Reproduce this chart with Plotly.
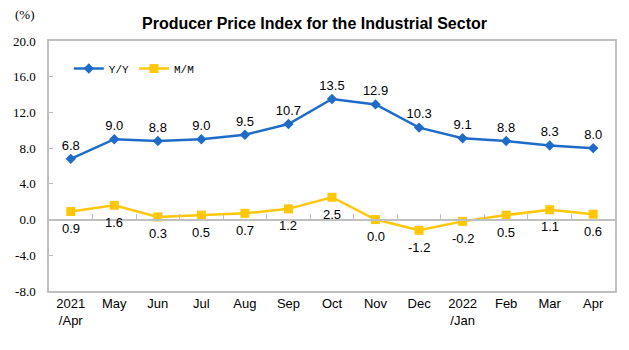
import plotly.graph_objects as go

categories = ["2021<br>/Apr", "May", "Jun", "Jul", "Aug", "Sep", "Oct", "Nov", "Dec", "2022<br>/Jan", "Feb", "Mar", "Apr"]
yoy = [6.8, 9.0, 8.8, 9.0, 9.5, 10.7, 13.5, 12.9, 10.3, 9.1, 8.8, 8.3, 8.0]
mom = [0.9, 1.6, 0.3, 0.5, 0.7, 1.2, 2.5, 0.0, -1.2, -0.2, 0.5, 1.1, 0.6]
yticks = [-8, -4, 0, 4, 8, 12, 16, 20]

blue = "#1F6CC8"
yellow = "#FFC70A"
lab_font = dict(family="Liberation Sans, Arial", size=13, color="#000")

fig = go.Figure()
fig.add_trace(go.Scatter(
    x=categories, y=yoy, name="Y/Y", mode="lines+markers+text",
    line=dict(color=blue, width=2.5), marker=dict(symbol="diamond", size=8, color=blue),
    text=[f"{v:.1f}" for v in yoy], textposition="top center", textfont=lab_font,
    cliponaxis=False))
fig.add_trace(go.Scatter(
    x=categories, y=mom, name="M/M", mode="lines+markers",
    line=dict(color=yellow, width=2.5), marker=dict(symbol="square", size=9, color=yellow),
    cliponaxis=False))

annotations = [dict(x=c, y=v, text=f"{v:.1f}", showarrow=False, yshift=-17,
                    xanchor="center", yanchor="middle", font=lab_font)
               for c, v in zip(categories, mom)]
annotations.append(dict(text="(%)", xref="paper", yref="paper", x=-0.064, y=1 + 26 / 250,
                        xanchor="left", yanchor="middle", showarrow=False,
                        font=dict(family="Liberation Serif, Times New Roman", size=13, color="#000")))

fig.update_layout(
    width=629, height=350,
    margin=dict(l=49, r=14, t=41, b=59),
    paper_bgcolor="white", plot_bgcolor="white",
    title=dict(text="<b>Producer Price Index for the Industrial Sector</b>",
               x=0.5, xanchor="center", y=1 - 23 / 350, yanchor="middle",
               font=dict(family="Liberation Sans, Arial", size=16, color="#000")),
    showlegend=True,
    legend=dict(orientation="h", x=0.035, y=0.89, xanchor="left", yanchor="middle",
                bgcolor="rgba(0,0,0,0)",
                font=dict(family="Liberation Mono, DejaVu Sans Mono", size=11, color="#000"),
                itemwidth=30, tracegroupgap=0),
    xaxis=dict(type="category", showline=True, linecolor="#BFBFBF", linewidth=1.5,
               mirror=True, ticks="", showgrid=False, zeroline=False,
               tickfont=dict(family="Liberation Sans, Arial", size=13, color="#000"),
               range=[-0.5, len(categories) - 0.5]),
    xaxis2=dict(type="category", overlaying="x", matches="x", anchor="free",
                position=8 / 28, showline=True, linecolor="#BFBFBF", linewidth=1.5,
                ticks="inside", ticklen=5, tickcolor="#BFBFBF", tickson="boundaries",
                showticklabels=False, showgrid=False, zeroline=False, side="bottom"),
    yaxis=dict(range=[-8, 20], tickvals=yticks, ticktext=[f"{v:.1f}" for v in yticks],
               showline=True, linecolor="#BFBFBF", linewidth=1.5, mirror=True,
               ticks="inside", ticklen=4, tickcolor="#BFBFBF", showgrid=False,
               zeroline=False, ticklabelstandoff=9,
               tickfont=dict(family="Liberation Serif, Times New Roman", size=13, color="#000")),
    annotations=annotations,
)
# invisible trace to keep xaxis2 alive
fig.add_trace(go.Scatter(x=categories, y=[None] * len(categories), xaxis="x2",
                         showlegend=False, hoverinfo="skip"))

fig.write_html("out.html")
